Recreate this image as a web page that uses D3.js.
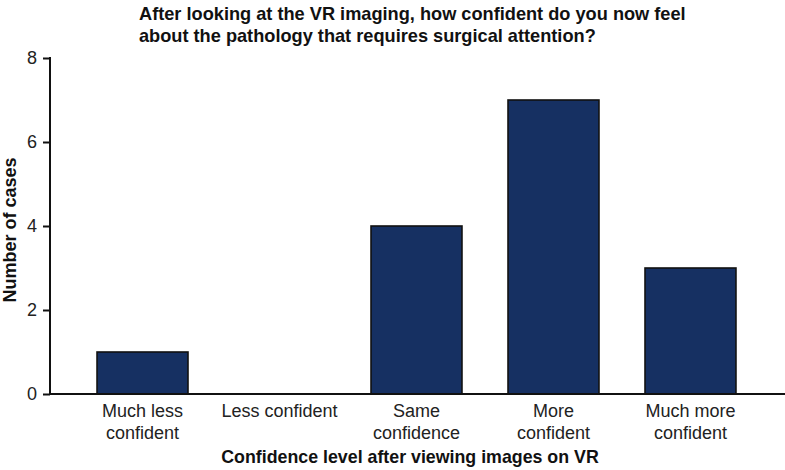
<!DOCTYPE html>
<html><head><meta charset="utf-8">
<script src="https://cdn.jsdelivr.net/npm/d3@7"></script>
<style>body{margin:0;background:#fff}svg{display:block;font-family:"Liberation Sans",Arial,Helvetica,sans-serif}</style>
</head><body>
<script>
const categories = [["Much less","confident"],["Less confident"],["Same","confidence"],["More","confident"],["Much more","confident"]];
const values = [1, 0, 4, 7, 3];
const yTicks = [0, 2, 4, 6, 8];
const titleLines = ["After looking at the VR imaging, how confident do you now feel","about the pathology that requires surgical attention?"];
const xTitle = "Confidence level after viewing images on VR";
const yTitle = "Number of cases";

const W = 785, H = 470;
const svg = d3.select("body").append("svg").attr("width", W).attr("height", H);
const keys = categories.map((c,i)=>i);
const x = d3.scaleBand().domain(keys).range([51, 782]).padding(0.336);
const y = d3.scaleLinear().domain([0, 8]).range([394, 58]);

svg.append("g").selectAll("rect").data(values).join("rect")
  .attr("x", (d,i)=>x(i)).attr("width", x.bandwidth())
  .attr("y", d=>y(d)).attr("height", d=>y(0)-y(d))
  .attr("fill", "#163062").attr("stroke", "#111").attr("stroke-width", 1.6)
  .attr("display", d=>d>0?null:"none");

const ya = svg.append("g").attr("transform","translate(50,0)")
  .call(d3.axisLeft(y).tickValues(yTicks).tickSize(7).tickPadding(6));
ya.select(".domain").attr("d","M0,57V395").attr("stroke","#111").attr("stroke-width",2);
ya.selectAll(".tick line").attr("stroke","#111").attr("stroke-width",2);
ya.selectAll(".tick text").attr("font-size",18).attr("fill","#222").attr("font-family","Liberation Sans, Arial, sans-serif");

svg.append("line").attr("x1",49).attr("x2",785).attr("y1",394).attr("y2",394).attr("stroke","#111").attr("stroke-width",2);

const xl = svg.append("g").selectAll("text").data(categories).join("text")
  .attr("text-anchor","middle").attr("font-size",18).attr("fill","#222")
  .attr("transform",(d,i)=>`translate(${x(i)+x.bandwidth()/2},417)`);
xl.selectAll("tspan").data(d=>d).join("tspan").attr("x",0).attr("dy",(d,j)=>j?22:0).text(d=>d);

svg.append("text").attr("x",410).attr("y",463).attr("text-anchor","middle")
  .attr("font-size",17.8).attr("font-weight","bold").attr("fill","#111").text(xTitle);
svg.append("text").attr("transform","translate(16,230) rotate(-90)").attr("text-anchor","middle")
  .attr("font-size",18).attr("font-weight","bold").attr("fill","#111").text(yTitle);

const t = svg.append("text").attr("x",139).attr("y",20).attr("font-size",18.2).attr("font-weight","bold").attr("fill","#111");
t.selectAll("tspan").data(titleLines).join("tspan").attr("x",139).attr("dy",(d,j)=>j?22:0).text(d=>d);
</script>
</body></html>
